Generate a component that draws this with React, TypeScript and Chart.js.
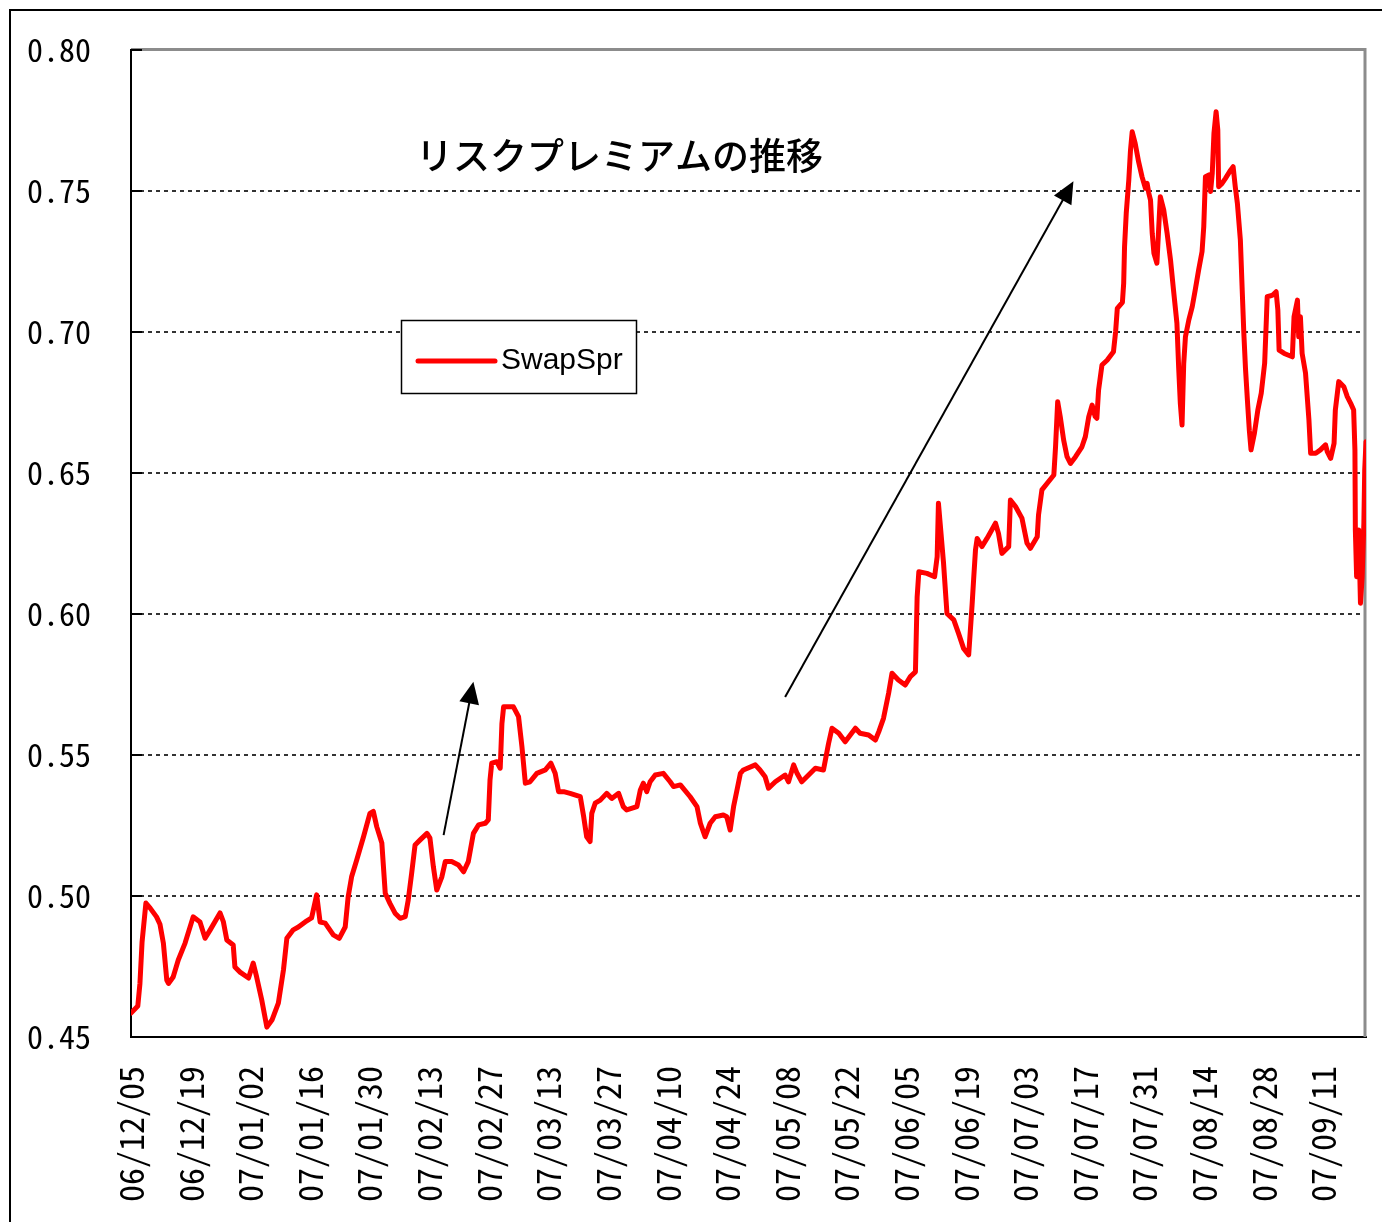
import React, { useEffect, useRef } from "react";
import { Chart, registerables } from "chart.js";

Chart.register(...registerables);

// Days counted from 2006-12-05 (first category on the axis)
const tickDays = [0, 14, 28, 42, 56, 70, 84, 98, 112, 126, 140, 154, 168, 182, 196, 210, 224, 238, 252, 266, 280];
const tickLabels = [
  "06/12/05", "06/12/19", "07/01/02", "07/01/16", "07/01/30", "07/02/13", "07/02/27",
  "07/03/13", "07/03/27", "07/04/10", "07/04/24", "07/05/08", "07/05/22", "07/06/05",
  "07/06/19", "07/07/03", "07/07/17", "07/07/31", "07/08/14", "07/08/28", "07/09/11",
];
const yTicks = [0.45, 0.5, 0.55, 0.6, 0.65, 0.7, 0.75, 0.8];

const seriesName = "SwapSpr";
const titleText = "リスクプレミアムの推移";

const dayOffsets = [
  0, 1.6, 2.1, 2.6, 3.5, 4.5, 6.0, 6.8, 7.6, 8.4, 8.8, 9.9, 11.1, 12.7, 14.6, 16.2, 17.4, 18.6, 20.9, 21.7,
  22.5, 24.0, 24.4, 25.6, 27.6, 28.7, 29.5, 30.7, 31.9, 33.1, 34.6, 35.8, 36.6, 38.1, 39.3, 40.9, 42.4, 43.6, 44.4, 45.6,
  47.5, 48.9, 50.3, 51.0, 51.8, 53.0, 54.6, 56.1, 56.9, 57.7, 58.9, 59.7, 60.8, 62.0, 63.2, 64.4, 65.1, 65.9, 66.7, 67.9,
  69.5, 70.2, 71.0, 71.8, 73.0, 73.8, 75.3, 76.9, 78.1, 79.2, 80.4, 81.6, 83.2, 83.9, 84.3, 84.7, 85.9, 86.7, 87.1, 87.5,
  89.8, 91.0, 91.8, 92.6, 93.7, 95.3, 97.3, 98.6, 99.6, 100.4, 101.6, 103.1, 105.5, 106.3, 107.0, 107.8, 108.2, 109.0, 110.2, 111.7,
  112.9, 114.5, 115.6, 116.4, 118.8, 119.6, 120.3, 121.1, 121.9, 123.1, 125.0, 126.6, 127.4, 129.0, 131.3, 132.9, 133.7, 134.8, 136.0, 137.2,
  139.1, 139.9, 140.7, 141.5, 142.3, 143.1, 143.8, 146.6, 147.7, 148.9, 149.7, 151.3, 153.6, 154.4, 155.6, 156.4, 157.5, 158.7, 160.7, 162.6,
  163.8, 164.6, 166.2, 167.7, 168.9, 170.1, 171.2, 173.2, 174.8, 175.6, 176.7, 177.9, 178.7, 180.2, 181.8, 183.0, 184.2, 184.6, 185.0, 186.9,
  188.7, 189.3, 189.6, 190.0, 190.8, 191.6, 193.2, 194.3, 195.5, 196.7, 197.5, 197.9, 198.3, 198.7, 199.8, 201.0, 203.0, 203.7, 204.5, 206.1,
  206.5, 207.7, 209.2, 210.4, 211.2, 212.8, 213.1, 213.9, 215.1, 216.7, 217.1, 217.6, 218.2, 219.0, 219.8, 220.6, 221.8, 223.3, 224.1, 224.9,
  225.7, 226.4, 226.8, 227.2, 228.0, 229.2, 230.7, 231.2, 231.6, 232.8, 233.1, 233.3, 233.7, 234.3, 234.7, 235.1, 235.8, 236.6, 237.4, 238.2,
  238.6, 239.0, 239.4, 239.8, 240.2, 240.9, 241.3, 241.7, 242.5, 243.3, 244.1, 244.8, 245.6, 246.0, 246.4, 246.8, 247.2, 247.6, 248.4, 249.2,
  249.9, 250.7, 251.5, 251.9, 252.3, 253.1, 253.5, 253.9, 254.3, 254.8, 255.2, 255.4, 256.2, 257.0, 258.2, 258.8, 259.3, 259.8, 260.5, 260.9,
  261.3, 261.7, 262.2, 262.6, 263.0, 263.8, 264.6, 265.4, 266.2, 266.6, 266.8, 268.1, 268.9, 269.3, 269.6, 270.8, 272.7, 273.1, 273.9, 274.2,
  274.6, 275.0, 275.8, 276.2, 276.6, 277.0, 278.2, 279.3, 280.5, 280.9, 281.7, 282.5, 282.8, 283.6, 284.8, 285.6, 286.4, 287.1, 287.4, 287.5,
  287.8, 288.3, 288.7, 289.1, 289.5, 289.7, 290.0,
];

const swapSpr = [
  0.4585, 0.461, 0.469, 0.4837, 0.4975, 0.4957, 0.4926, 0.490, 0.4833, 0.4702, 0.469, 0.4713, 0.4773, 0.4833, 0.4926, 0.4908, 0.485, 0.488, 0.494, 0.4908,
  0.4844, 0.4826, 0.4748, 0.473, 0.4709, 0.4762, 0.4713, 0.4631, 0.4535, 0.456, 0.462, 0.4738, 0.485, 0.488, 0.489, 0.4908, 0.4922, 0.5004, 0.4908, 0.4904,
  0.4862, 0.4850, 0.4890, 0.4998, 0.5068, 0.5128, 0.5210, 0.5293, 0.530, 0.5246, 0.5188, 0.5010, 0.4974, 0.4939, 0.4921, 0.4927, 0.4986, 0.508, 0.5181, 0.5199,
  0.5222, 0.5205, 0.5104, 0.5021, 0.5068, 0.5122, 0.5122, 0.5110, 0.5086, 0.5122, 0.5222, 0.5252, 0.5258, 0.5270, 0.5411, 0.5471, 0.5476, 0.5453, 0.5612, 0.5671,
  0.5671, 0.5636, 0.5529, 0.5400, 0.5405, 0.5435, 0.5447, 0.5471, 0.5435, 0.5370, 0.537, 0.5364, 0.5352, 0.5281, 0.521, 0.5193, 0.5293, 0.5329, 0.534, 0.5364,
  0.5346, 0.5364, 0.5317, 0.5305, 0.5317, 0.5376, 0.540, 0.537, 0.5405, 0.5429, 0.5435, 0.5405, 0.5388, 0.5394, 0.5352, 0.5317, 0.5258, 0.521, 0.5258, 0.5281,
  0.5287, 0.5281, 0.5234, 0.5317, 0.5376, 0.5435, 0.5447, 0.5465, 0.5447, 0.5423, 0.5382, 0.5405, 0.5429, 0.5405, 0.5465, 0.5435, 0.5405, 0.5423, 0.5453, 0.5447,
  0.5541, 0.5595, 0.5577, 0.5547, 0.5571, 0.5595, 0.5577, 0.5571, 0.5553, 0.5583, 0.5630, 0.5719, 0.5790, 0.5766, 0.5748, 0.5778, 0.5795, 0.6061, 0.6150, 0.6144,
  0.6132, 0.6203, 0.6393, 0.6322, 0.618, 0.6002, 0.5979, 0.5932, 0.5878, 0.5855, 0.6032, 0.6132, 0.6227, 0.6268, 0.6239, 0.6268, 0.6322, 0.6286, 0.6215, 0.6239,
  0.6404, 0.6381, 0.634, 0.6251, 0.6233, 0.6274, 0.6351, 0.644, 0.6463, 0.6493, 0.6593, 0.6753, 0.670, 0.6617, 0.6558, 0.6534, 0.6558, 0.6593, 0.6629, 0.670,
  0.6741, 0.670, 0.6694, 0.6794, 0.6883, 0.690, 0.6930, 0.7000, 0.7084, 0.7105, 0.7173, 0.7302, 0.7421, 0.7539, 0.7645, 0.771, 0.7669, 0.7604, 0.7551, 0.751,
  0.7527, 0.7492, 0.7468, 0.735, 0.7279, 0.7244, 0.7362, 0.748, 0.7433, 0.735, 0.7255, 0.7149, 0.7031, 0.6877, 0.6747, 0.667, 0.6889, 0.6983, 0.7043, 0.7090,
  0.7149, 0.722, 0.7285, 0.7373, 0.7551, 0.7557, 0.7498, 0.7563, 0.7705, 0.7781, 0.7716, 0.7515, 0.7527, 0.7545, 0.7574, 0.7586, 0.7515, 0.7456, 0.7326, 0.7161,
  0.700, 0.6871, 0.6747, 0.6652, 0.6582, 0.6641, 0.6723, 0.6783, 0.6889, 0.7043, 0.7125, 0.7131, 0.7143, 0.7078, 0.6936, 0.6924, 0.6912, 0.7054, 0.7113, 0.6983,
  0.7054, 0.6924, 0.6854, 0.6771, 0.6688, 0.657, 0.657, 0.6582, 0.660, 0.6576, 0.6552, 0.6605, 0.6723, 0.6824, 0.6806, 0.6771, 0.6747, 0.6723, 0.6582, 0.6298,
  0.6132, 0.6298, 0.6038, 0.6132, 0.6322, 0.6511, 0.6611,
];

// Annotation arrows (data units: day offset, value)
const arrowStartDays = [73.4, 153.6];
const arrowStartValues = [0.5216, 0.5706];
const arrowEndDays = [80.4, 221.3];
const arrowEndValues = [0.576, 0.7535];

const TICK_FONT = '"Noto Sans Mono CJK JP", "Liberation Sans Narrow", "Liberation Sans", sans-serif';

function drawArrow(ctx: CanvasRenderingContext2D, x1: number, y1: number, x2: number, y2: number) {
  const ang = Math.atan2(y2 - y1, x2 - x1);
  const headLen = 22;
  const headW = 10;
  const bx = x2 - headLen * Math.cos(ang);
  const by = y2 - headLen * Math.sin(ang);
  ctx.save();
  ctx.strokeStyle = "#000";
  ctx.fillStyle = "#000";
  ctx.lineWidth = 2;
  ctx.beginPath();
  ctx.moveTo(x1, y1);
  ctx.lineTo(bx + 2 * Math.cos(ang), by + 2 * Math.sin(ang));
  ctx.stroke();
  ctx.beginPath();
  ctx.moveTo(x2, y2);
  ctx.lineTo(bx + headW * Math.sin(ang), by - headW * Math.cos(ang));
  ctx.lineTo(bx - headW * Math.sin(ang), by + headW * Math.cos(ang));
  ctx.closePath();
  ctx.fill();
  ctx.restore();
}

const decorPlugin = {
  id: "decor",
  beforeDraw(chart: any) {
    const { ctx, width, height } = chart;
    ctx.save();
    ctx.fillStyle = "#fff";
    ctx.fillRect(0, 0, width, height);
    // outer chart frame (only left and top edges are inside the picture)
    ctx.strokeStyle = "#000";
    ctx.lineWidth = 2;
    ctx.beginPath();
    ctx.moveTo(10, height + 5);
    ctx.lineTo(10, 10);
    ctx.lineTo(width + 5, 10);
    ctx.stroke();
    ctx.restore();
  },
  beforeDatasetsDraw(chart: any) {
    const { ctx, chartArea } = chart;
    const y = chart.scales.y;
    ctx.save();
    // plot area frame, top and right in gray
    ctx.strokeStyle = "#8c8c8c";
    ctx.lineWidth = 3;
    ctx.beginPath();
    ctx.moveTo(chartArea.left, chartArea.top - 0.5);
    ctx.lineTo(chartArea.right - 1, chartArea.top - 0.5);
    ctx.lineTo(chartArea.right - 1, chartArea.bottom);
    ctx.stroke();
    // inside tick marks on the value axis
    ctx.strokeStyle = "#000";
    ctx.lineWidth = 2;
    yTicks.forEach((v) => {
      const py = Math.round(y.getPixelForValue(v));
      ctx.beginPath();
      ctx.moveTo(chartArea.left, py);
      ctx.lineTo(chartArea.left + 11, py);
      ctx.stroke();
    });
    ctx.restore();
  },
  afterDatasetsDraw(chart: any) {
    const { ctx } = chart;
    const xs = chart.scales.x;
    const ys = chart.scales.y;
    arrowStartDays.forEach((d, i) => {
      drawArrow(
        ctx,
        xs.getPixelForValue(d),
        ys.getPixelForValue(arrowStartValues[i]),
        xs.getPixelForValue(arrowEndDays[i]),
        ys.getPixelForValue(arrowEndValues[i])
      );
    });
    ctx.save();
    // title text box
    ctx.fillStyle = "#000";
    ctx.font = '500 37px "Noto Sans CJK JP", sans-serif';
    ctx.textAlign = "left";
    ctx.textBaseline = "middle";
    ctx.fillText(titleText, 416, 156);
    // legend box
    ctx.fillStyle = "#fff";
    ctx.fillRect(401, 320, 236, 74);
    ctx.strokeStyle = "#000";
    ctx.lineWidth = 1.5;
    ctx.strokeRect(401.5, 320.5, 235, 73);
    ctx.strokeStyle = "#ff0000";
    ctx.lineWidth = 5;
    ctx.lineCap = "round";
    ctx.beginPath();
    ctx.moveTo(418, 361);
    ctx.lineTo(495, 361);
    ctx.stroke();
    ctx.fillStyle = "#000";
    ctx.font = '30px "Liberation Sans", Arial, sans-serif';
    ctx.fillText(seriesName, 501, 361);
    ctx.restore();
  },
};

export default function App() {
  const canvasRef = useRef<HTMLCanvasElement | null>(null);

  useEffect(() => {
    document.documentElement.style.overflow = "hidden";
    const canvas = canvasRef.current;
    if (!canvas) return;
    const points = dayOffsets.map((d, i) => ({ x: d, y: swapSpr[i] }));
    const chart = new Chart(canvas, {
      type: "line",
      data: {
        datasets: [
          {
            label: seriesName,
            data: points,
            borderColor: "#ff0000",
            backgroundColor: "#ff0000",
            borderWidth: 5,
            pointRadius: 0,
            tension: 0,
            fill: false,
            borderJoinStyle: "round",
            borderCapStyle: "round",
          },
        ],
      },
      options: {
        animation: false,
        responsive: false,
        maintainAspectRatio: false,
        layout: { padding: { top: 50, right: 16, left: 0, bottom: 0 } },
        plugins: {
          legend: { display: false },
          title: { display: false },
          tooltip: { enabled: false },
        },
        scales: {
          x: {
            type: "linear",
            min: 0,
            max: 290,
            afterBuildTicks: (s: any) => {
              s.ticks = tickDays.map((v) => ({ value: v }));
            },
            afterFit: (s: any) => {
              s.height = 185;
              s.paddingLeft = 0;
              s.paddingRight = 0;
              s.paddingTop = 0;
              s.paddingBottom = 0;
            },
            grid: { display: true, drawOnChartArea: false, drawTicks: false },
            border: { display: true, color: "#000", width: 2 },
            ticks: {
              autoSkip: false,
              minRotation: 90,
              maxRotation: 90,
              padding: 29,
              color: "#000",
              font: { family: TICK_FONT, size: 34 },
              callback: (v: any) => {
                const i = tickDays.indexOf(Number(v));
                return i >= 0 ? tickLabels[i] : "";
              },
            },
          },
          y: {
            type: "linear",
            min: 0.45,
            max: 0.8,
            afterBuildTicks: (s: any) => {
              s.ticks = yTicks.map((v) => ({ value: v }));
            },
            afterFit: (s: any) => {
              s.width = 131;
              s.paddingLeft = 0;
              s.paddingRight = 0;
              s.paddingTop = 0;
              s.paddingBottom = 0;
            },
            grid: { color: "#333", lineWidth: 2, drawTicks: false },
            border: { display: true, color: "#000", width: 2, dash: [4, 4] },
            ticks: {
              padding: 40,
              color: "#000",
              font: { family: TICK_FONT, size: 32 },
              callback: (v: any) => Number(v).toFixed(2),
            },
          },
        },
      },
      plugins: [decorPlugin],
    } as any);
    return () => chart.destroy();
  }, []);

  return (
    <div style={{ position: "fixed", left: 0, top: 0, width: 1382, height: 1222, background: "#fff" }}>
      <canvas ref={canvasRef} width={1382} height={1222} style={{ display: "block", width: 1382, height: 1222 }} />
    </div>
  );
}
